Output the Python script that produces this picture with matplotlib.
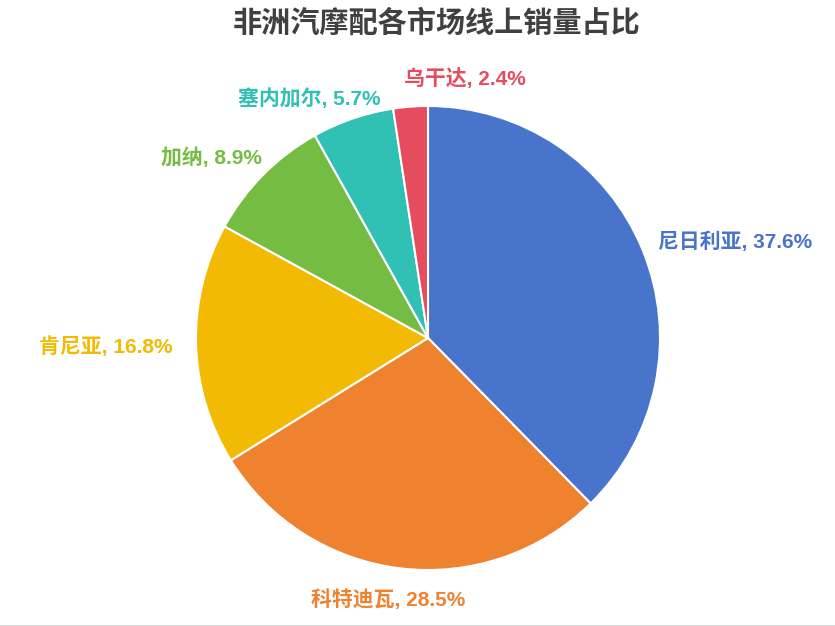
import matplotlib.pyplot as plt
from matplotlib.lines import Line2D

plt.rcParams['font.family'] = ['Liberation Sans', 'Noto Sans CJK SC']

countries = ['尼日利亚', '科特迪瓦', '肯尼亚', '加纳', '塞内加尔', '乌干达']
shares = [37.6, 28.5, 16.8, 8.9, 5.7, 2.4]
colors = ['#4874CB', '#EE822F', '#F2BA02', '#75BD42', '#30C0B4', '#E54C5E']

# label alignment and small pixel nudges (dx right, dy down)
label_ha = ['left', 'center', 'right', 'right', 'right', 'left']
label_nudge = [(-6, 0), (-9, 8), (0, 2), (15, -1), (35, 2), (-5, -5)]

W, H = 835, 626
fig = plt.figure(figsize=(W / 100, H / 100), dpi=100)
ax = fig.add_axes([0, 0, 1, 1])

labels = [f'{c}, {v}%' for c, v in zip(countries, shares)]
wedges, texts = ax.pie(shares, labels=labels, colors=colors, startangle=90,
                       counterclock=False, center=(428, H - 338), radius=232,
                       labeldistance=1.1, frame=True,
                       wedgeprops=dict(edgecolor='white', linewidth=1.5))
ax.axis('off')
ax.set_xlim(0, W)
ax.set_ylim(0, H)
ax.set_aspect('equal')

for t, col, ha, (dx, dy) in zip(texts, colors, label_ha, label_nudge):
    x, y = t.get_position()
    t.set_position((x + dx, y - dy))
    t.set_color(col)
    t.set_fontsize(15)
    t.set_fontweight('bold')
    t.set_ha(ha)

fig.text(437 / W, 1 - 24 / H, '非洲汽摩配各市场线上销量占比', ha='center', va='center',
         fontsize=21, fontweight='bold', color='#404040')

fig.add_artist(Line2D([0, 1], [0.5 / H, 0.5 / H], color='#d9d9d9', linewidth=1.5))

fig.savefig('out.png', dpi=100)
